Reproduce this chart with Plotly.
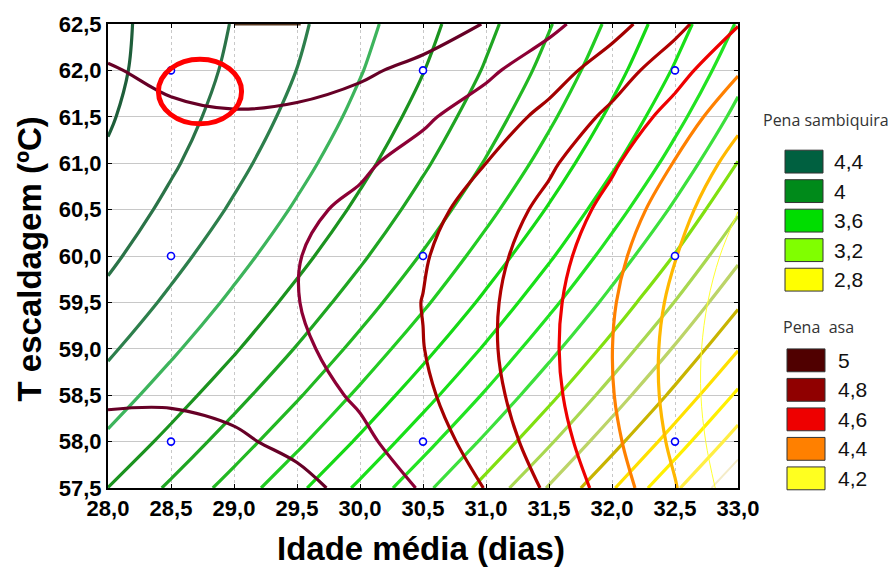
import plotly.graph_objects as go

# ---------------- data ----------------
x_idade = [28.0, 28.5, 29.0, 29.5, 30.0, 30.5, 31.0, 31.5, 32.0, 32.5, 33.0]
y_temp = [57.5, 58.0, 58.5, 59.0, 59.5, 60.0, 60.5, 61.0, 61.5, 62.0, 62.5]

# rows = y_temp (57.5 -> 62.5), columns = x_idade (28.0 -> 33.0)
z_sambiquira = [
    [3.999, 3.883, 3.758, 3.623, 3.480, 3.327, 3.164, 2.992, 2.810, 2.617, 2.415],
    [4.080, 3.970, 3.850, 3.722, 3.584, 3.437, 3.280, 3.114, 2.937, 2.750, 2.554],
    [4.153, 4.048, 3.935, 3.812, 3.680, 3.539, 3.388, 3.227, 3.056, 2.875, 2.683],
    [4.217, 4.118, 4.011, 3.894, 3.768, 3.632, 3.487, 3.331, 3.166, 2.990, 2.805],
    [4.273, 4.180, 4.078, 3.967, 3.847, 3.717, 3.577, 3.427, 3.267, 3.097, 2.917],
    [4.320, 4.233, 4.137, 4.032, 3.917, 3.792, 3.658, 3.514, 3.359, 3.195, 3.020],
    [4.359, 4.277, 4.187, 4.087, 3.978, 3.859, 3.730, 3.591, 3.442, 3.283, 3.113],
    [4.388, 4.313, 4.228, 4.134, 4.030, 3.916, 3.793, 3.660, 3.516, 3.362, 3.197],
    [4.409, 4.339, 4.260, 4.171, 4.073, 3.964, 3.846, 3.718, 3.580, 3.431, 3.272],
    [4.421, 4.356, 4.282, 4.199, 4.106, 4.003, 3.891, 3.768, 3.635, 3.491, 3.337],
    [4.423, 4.364, 4.295, 4.217, 4.130, 4.032, 3.925, 3.807, 3.680, 3.541, 3.392],
]
z_asa = [
    [4.998, 4.993, 4.969, 4.928, 4.868, 4.791, 4.696, 4.584, 4.454, 4.306, 4.140],
    [4.935, 4.933, 4.914, 4.877, 4.821, 4.748, 4.657, 4.549, 4.423, 4.279, 4.117],
    [4.884, 4.887, 4.872, 4.839, 4.787, 4.718, 4.632, 4.527, 4.405, 4.265, 4.107],
    [4.847, 4.854, 4.843, 4.814, 4.767, 4.702, 4.619, 4.519, 4.401, 4.265, 4.111],
    [4.822, 4.834, 4.827, 4.802, 4.759, 4.698, 4.620, 4.524, 4.409, 4.278, 4.128],
    [4.811, 4.826, 4.824, 4.803, 4.764, 4.708, 4.634, 4.541, 4.431, 4.304, 4.158],
    [4.812, 4.832, 4.833, 4.817, 4.783, 4.730, 4.660, 4.572, 4.466, 4.343, 4.202],
    [4.826, 4.850, 4.856, 4.844, 4.814, 4.766, 4.700, 4.616, 4.515, 4.395, 4.258],
    [4.853, 4.881, 4.892, 4.884, 4.858, 4.814, 4.753, 4.673, 4.576, 4.460, 4.328],
    [4.892, 4.925, 4.940, 4.936, 4.915, 4.875, 4.818, 4.743, 4.650, 4.539, 4.410],
    [4.944, 4.981, 5.000, 5.001, 4.984, 4.949, 4.896, 4.825, 4.736, 4.630, 4.505],
]

levels_sambiquira = [4.4, 4.3, 4.2, 4.1, 4.0, 3.9, 3.8, 3.7, 3.6, 3.5,
                     3.4, 3.3, 3.2, 3.1, 3.0, 2.9, 2.8, 2.7, 2.6, 2.5]
levels_asa = [5.0, 4.9, 4.8, 4.7, 4.6, 4.5, 4.4, 4.3, 4.2]

design_x = [28.5, 28.5, 28.5, 30.5, 30.5, 30.5, 32.5, 32.5, 32.5]
design_y = [58.0, 60.0, 62.0, 58.0, 60.0, 62.0, 58.0, 60.0, 62.0]

legend_sambiquira_labels = ["4,4", "4", "3,6", "3,2", "2,8"]
legend_asa_labels = ["5", "4,8", "4,6", "4,4", "4,2"]

# ---------------- styles ----------------
colors_sambiquira = ['#1e5e3a', '#2b7348', '#2d7f4c', '#3db45c', '#1b931f',
                     '#1fa522', '#22b822', '#22cc22', '#15d915', '#18e018',
                     '#22e322', '#3ce03c', '#80e010', '#a8d850', '#bcd468',
                     '#c8b400', '#ffe000', '#fff000', '#ffee44', '#f4ecc8']
widths_sambiquira = [3.2] * 19 + [2]
colors_asa = ['#5a3a22', '#660026', '#8c0035', '#a30000', '#b00000',
              '#ee0000', '#ff8000', '#ffb800', '#ffff30']
widths_asa = [3.2, 3.2, 3.2, 3.2, 3.2, 3.2, 3.2, 3.2, 1]
legend_sambiquira_colors = ['#006040', '#008a1a', '#00dd00', '#80ff00', '#ffff00']
legend_asa_colors = ['#500000', '#900000', '#ee0000', '#ff8000', '#ffff20']

W, H = 896, 567
L, R, T, B = 108, 738, 21, 488


def px(xp):
    return (xp - L) / (R - L)


def py(yp):
    return (B - yp) / (B - T)


fig = go.Figure()

for lev, col, w in zip(levels_sambiquira, colors_sambiquira, widths_sambiquira):
    fig.add_trace(go.Contour(
        x=x_idade, y=y_temp, z=z_sambiquira, autocontour=False,
        contours=dict(start=lev, end=lev, size=1, coloring='none'),
        line=dict(color=col, width=w, smoothing=1),
        showscale=False, hoverinfo='skip', showlegend=False))

for lev, col, w in zip(levels_asa, colors_asa, widths_asa):
    fig.add_trace(go.Contour(
        x=x_idade, y=y_temp, z=z_asa, autocontour=False,
        contours=dict(start=lev, end=lev, size=1, coloring='none'),
        line=dict(color=col, width=w, smoothing=1),
        showscale=False, hoverinfo='skip', showlegend=False))

fig.add_trace(go.Scatter(
    x=design_x, y=design_y, mode='markers',
    marker=dict(size=7, color='white', line=dict(color='#0000ff', width=1.6)),
    showlegend=False, hoverinfo='skip'))

shapes = []
annotations = []

# red ellipse highlight
shapes.append(dict(type='circle', xref='x', yref='y',
                   x0=28.40, x1=29.06, y0=61.424, y1=62.12,
                   line=dict(color='#ff0000', width=5), layer='above'))

lab_font = dict(family='Liberation Sans, Arial, sans-serif', size=21, color='#111111')
head_font = dict(family='Open Sans, sans-serif', size=16, color='#333333')

annotations.append(dict(text='Pena sambiquira', xref='paper', yref='paper',
                        x=px(761), y=py(118), xanchor='left', yanchor='middle',
                        showarrow=False, font=head_font))
for i, (lab, col) in enumerate(zip(legend_sambiquira_labels, legend_sambiquira_colors)):
    top = 148 + i * 29.7
    shapes.append(dict(type='rect', xref='paper', yref='paper',
                       x0=px(785), x1=px(823), y0=py(top + 23), y1=py(top),
                       fillcolor=col, line=dict(color='#333333', width=1)))
    annotations.append(dict(text=lab, xref='paper', yref='paper',
                            x=px(832), y=py(top + 11.5), xanchor='left', yanchor='middle',
                            showarrow=False, font=lab_font))

annotations.append(dict(text='Pena\u00a0 asa', xref='paper', yref='paper',
                        x=px(781), y=py(326), xanchor='left', yanchor='middle',
                        showarrow=False, font=head_font))
for i, (lab, col) in enumerate(zip(legend_asa_labels, legend_asa_colors)):
    top = 348 + i * 29.7
    shapes.append(dict(type='rect', xref='paper', yref='paper',
                       x0=px(787), x1=px(825), y0=py(top + 23), y1=py(top),
                       fillcolor=col, line=dict(color='#333333', width=1)))
    annotations.append(dict(text=lab, xref='paper', yref='paper',
                            x=px(836), y=py(top + 11.5), xanchor='left', yanchor='middle',
                            showarrow=False, font=lab_font))

title_font = dict(family='Liberation Sans, Arial, sans-serif', size=33, color='#000000')
annotations.append(dict(text='<b>Idade média (dias)</b>', xref='paper', yref='paper',
                        x=px(421), y=py(549), xanchor='center', yanchor='middle',
                        showarrow=False, font=title_font))
annotations.append(dict(text='<b>T escaldagem (ºC)</b>', xref='paper', yref='paper',
                        x=px(29), y=py(258), xanchor='center', yanchor='middle',
                        textangle=-90, showarrow=False, font=title_font))

tick_font = dict(family='Liberation Sans, Arial, sans-serif', size=22, color='#000000')
axis_common = dict(showline=True, linecolor='black', linewidth=2, mirror='ticks',
                   ticks='inside', ticklen=4, tickcolor='black', tickwidth=1,
                   tickformat='.1f', dtick=0.5, tickfont=tick_font, zeroline=False,
                   gridcolor='#c8c8c8', gridwidth=1)

fig.update_layout(
    width=W, height=H,
    margin=dict(l=L, r=W - R, t=T, b=H - B, pad=0),
    paper_bgcolor='white', plot_bgcolor='white',
    separators=', ',
    font=dict(family='Liberation Sans, Arial, sans-serif'),
    xaxis=dict(range=[28, 33], tick0=28, griddash='dot', **axis_common),
    yaxis=dict(range=[57.5, 62.5], tick0=57.5, **axis_common),
    shapes=shapes, annotations=annotations,
    showlegend=False,
)
fig.update_xaxes(tickprefix='<b>', ticksuffix='</b>')
fig.update_yaxes(tickprefix='<b>', ticksuffix='</b>')

fig.write_html("out.html")
